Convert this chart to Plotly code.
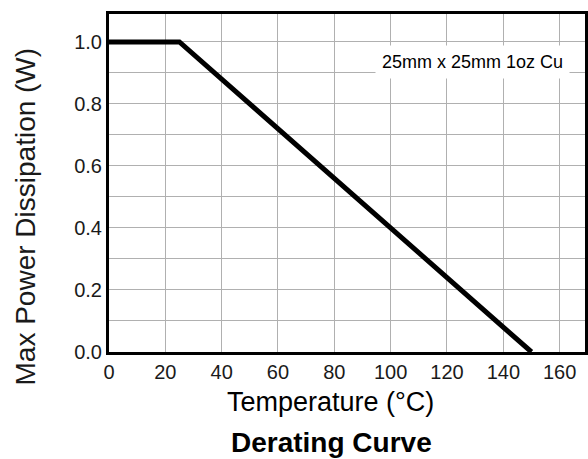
import plotly.graph_objects as go

# Data
temperature_c = [0, 25, 150]
max_power_w = [1.0, 1.0, 0.0]
x_ticks = [0, 20, 40, 60, 80, 100, 120, 140, 160]
y_ticks = [0.0, 0.2, 0.4, 0.6, 0.8, 1.0]
note_text = "25mm x 25mm 1oz Cu"
x_title = "Temperature (°C)"
y_title = "Max Power Dissipation (W)"
chart_title = "Derating Curve"

FONT = "Liberation Sans, Arial, sans-serif"

fig = go.Figure()
fig.add_trace(go.Scatter(
    x=temperature_c, y=max_power_w, mode="lines",
    line=dict(color="black", width=5), showlegend=False, hoverinfo="skip"
))

fig.update_layout(
    width=588, height=459,
    margin=dict(l=109, r=3, t=14, b=107),
    paper_bgcolor="white", plot_bgcolor="white",
    font=dict(family=FONT, color="#1a1a1a"),
)

fig.update_xaxes(
    range=[0, 169.0], tickvals=x_ticks, ticktext=[str(v) for v in x_ticks],
    showgrid=True, gridcolor="#b0b0b0", gridwidth=1,
    showline=True, linecolor="black", linewidth=3, mirror=True,
    ticks="", tickfont=dict(size=20, family=FONT, color="#1a1a1a"),
    zeroline=False, automargin=False,
)
fig.update_yaxes(
    range=[0, 1.09], tickvals=y_ticks, ticktext=[f"{v:.1f}" for v in y_ticks],
    showgrid=True, gridcolor="#b0b0b0", gridwidth=1,
    minor=dict(dtick=0.1, tick0=0, showgrid=True, gridcolor="#b0b0b0", gridwidth=1),
    showline=True, linecolor="black", linewidth=3, mirror=True,
    ticks="", tickfont=dict(size=20, family=FONT, color="#1a1a1a"),
    zeroline=False, automargin=False,
)

fig.add_annotation(
    x=129.2, y=0.935, xref="x", yref="y", text=note_text, showarrow=False,
    font=dict(size=18, family=FONT, color="black"), bgcolor="white",
    borderpad=6,
)
fig.add_annotation(
    x=78.5, y=-0.148, xref="x", yref="paper", text=x_title, showarrow=False,
    font=dict(size=27, family=FONT, color="black"), xanchor="center", yanchor="middle",
)
fig.add_annotation(
    x=79, y=-0.268, xref="x", yref="paper", text=f"<b>{chart_title}</b>", showarrow=False,
    font=dict(size=28, family=FONT, color="black"), xanchor="center", yanchor="middle",
)
fig.add_annotation(
    x=-0.175, y=0.40, xref="paper", yref="paper", text=y_title, showarrow=False,
    textangle=-90, font=dict(size=28, family=FONT, color="#1a1a1a"),
    xanchor="center", yanchor="middle",
)

fig.write_html(
    "out.html",
    config={"displayModeBar": False},
    post_script="document.body.style.margin='0';document.body.style.overflow='hidden';",
)
